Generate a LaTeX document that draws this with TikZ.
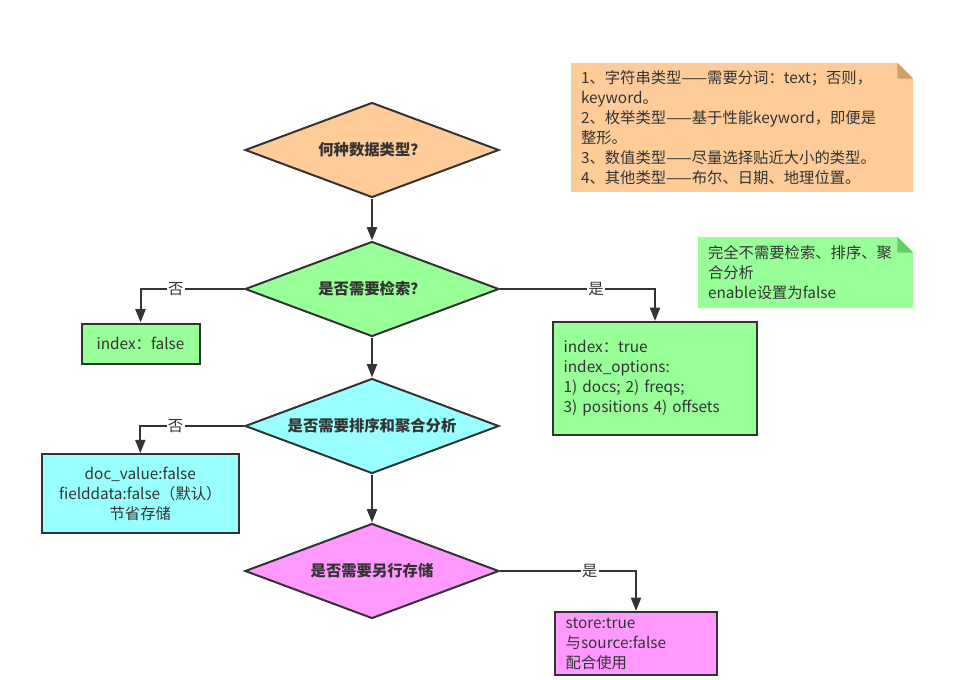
\documentclass[tikz,border=0pt]{standalone}
\usepackage{fontspec}
\setmainfont{Noto Sans CJK SC}
\usepackage{tikz}
\usetikzlibrary{shapes.geometric,arrows.meta}
\definecolor{linegray}{HTML}{333333}
\definecolor{orangefill}{HTML}{FFCC99}
\definecolor{orangefold}{HTML}{CF9C6A}
\definecolor{greenfill}{HTML}{99FF99}
\definecolor{greenfold}{HTML}{66CC66}
\definecolor{cyanfill}{HTML}{99FFFF}
\definecolor{pinkfill}{HTML}{FF99FF}
\tikzset{
  decision/.style={diamond, aspect=2.67, draw=linegray, line width=1.5pt, minimum width=190.5pt,
    minimum height=71.25pt, inner sep=0pt, text=linegray,
    font=\fontsize{11.5}{15}\selectfont\bfseries},
  result/.style={rectangle, draw=linegray, line width=1.5pt, inner sep=0pt,
    text=linegray, font=\fontsize{11.5}{15}\selectfont},
  note/.style={rectangle, inner ysep=0pt, inner xsep=7.5pt, align=left,
    text=linegray, font=\fontsize{11.5}{15}\selectfont},
  flow/.style={draw=linegray, line width=1.5pt, -{Triangle[length=10pt,width=7.5pt]}},
  answer/.style={fill=white, inner sep=1pt, text=linegray,
    font=\fontsize{11.5}{15}\selectfont},
}
\begin{document}
\begin{tikzpicture}[x=0.75pt,y=-0.75pt]
  \useasboundingbox (0,0) rectangle (956,679);
  \node[decision, fill=orangefill] (type) at (372,150) {何种数据类型？};
  \node[decision, fill=greenfill] (search) at (372,289) {是否需要检索？};
  \node[decision, fill=cyanfill] (sort) at (372,426) {是否需要排序和聚合分析};
  \node[decision, fill=pinkfill] (store) at (372,571) {是否需要另行存储};
  \node[result, fill=greenfill, minimum width=88.5pt, minimum height=30pt] (idxfalse) at (140.5,343.5) {index：false};
  \node[result, fill=cyanfill, minimum width=147.75pt, minimum height=59.25pt, align=center] (docval) at (140.3,493.7)
    {doc\_value:false\\fielddata:false（默认）\\节省存储};
  \node[result, fill=greenfill, minimum height=84.75pt, inner xsep=8pt, text width=137pt, align=left] (idxtrue) at (655,378.5)
    {index：true\\index\_options:\\1) docs; 2) freqs;\\3) positions 4) offsets};
  \node[result, fill=pinkfill, minimum height=47.25pt, inner xsep=8pt, text width=105.5pt, align=left] (storetrue) at (636,643.5)
    {store:true\\与source:false\\配合使用};
  \node[note, fill=orangefill, minimum height=96.75pt, text width=241.5pt] (typenote) at (742,127.5)
    {1、字符串类型——需要分词：text；否则，\\keyword。\\2、枚举类型——基于性能keyword，即便是\\整形。\\3、数值类型——尽量选择贴近大小的类型。\\4、其他类型——布尔、日期、地理位置。};
  \node[note, fill=greenfill, minimum height=53.25pt, text width=146.25pt] (offnote) at (805.5,272.5)
    {完全不需要检索、排序、聚\\合分析\\enable设置为false};
  \foreach \n/\c in {typenote/orangefold, offnote/greenfold}{
    \fill[white] ([xshift=-12pt]\n.north east) -- (\n.north east) -- ([yshift=-12pt]\n.north east) -- cycle;
    \fill[\c] ([xshift=-12pt]\n.north east) -- ([xshift=-12pt,yshift=-12pt]\n.north east) -- ([yshift=-12pt]\n.north east) -- cycle;
  }
  \draw[flow] (type.south) -- (search.north);
  \draw[flow] (search.south) -- (sort.north);
  \draw[flow] (sort.south) -- (store.north);
  \draw[flow] (search.west) -| node[answer, pos=0.33] {否} (idxfalse.north);
  \draw[flow] (search.east) -| node[answer, pos=0.31] {是} (idxtrue.north);
  \draw[flow] (sort.west) -| node[answer, pos=0.33] {否} (docval.north);
  \draw[flow] (store.east) -| node[answer, pos=0.33] {是} (storetrue.north);
\end{tikzpicture}
\end{document}
